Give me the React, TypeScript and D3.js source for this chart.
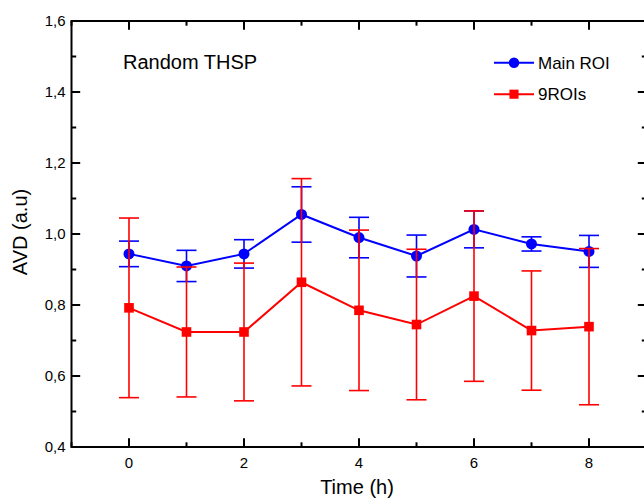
import React from "react";
import * as d3 from "d3";

const times = [0, 1, 2, 3, 4, 5, 6, 7, 8];
const mainRoiMean = [0.944, 0.91, 0.944, 1.055, 0.99, 0.938, 1.013, 0.972, 0.951];
const mainRoiErr = [0.036, 0.044, 0.04, 0.078, 0.057, 0.059, 0.052, 0.02, 0.045];
const nineRoisMean = [0.792, 0.724, 0.724, 0.864, 0.785, 0.745, 0.825, 0.728, 0.739];
const nineRoisErr = [0.253, 0.183, 0.194, 0.292, 0.226, 0.212, 0.24, 0.168, 0.22];
const xMajorTicks = [0, 2, 4, 6, 8];
const xMinorTicks = [-1, 1, 3, 5, 7, 9];
const yMajorTicks = [0.4, 0.6, 0.8, 1.0, 1.2, 1.4, 1.6];
const yMinorTicks = [0.5, 0.7, 0.9, 1.1, 1.3, 1.5];

const W = 644;
const H = 498;
const FONT = "'Liberation Sans', Arial, sans-serif";

export default function App() {
  const x = d3.scaleLinear().domain([-1, 9]).range([71.5, 646.5]);
  const y = d3.scaleLinear().domain([0.4, 1.6]).range([447, 21]);
  const line = d3
    .line<number>()
    .x((_, i) => x(times[i]))
    .y((d) => y(d));
  const fmt = (v: number) => v.toFixed(1).replace(".", ",");

  const series = [
    { name: "Main ROI", mean: mainRoiMean, err: mainRoiErr, color: "#0000FF", marker: "circle" },
    { name: "9ROIs", mean: nineRoisMean, err: nineRoisErr, color: "#FF0000", marker: "square" },
  ];

  const x0 = x(-1), x1 = x(9), y0 = y(0.4), y1 = y(1.6);
  const MAJ = 8.7, MIN = 4.7;

  const marker = (kind: string, cx: number, cy: number, color: string, key: string, size = 1) =>
    kind === "circle" ? (
      <circle key={key} cx={cx} cy={cy} r={5.5 * size} fill={color} />
    ) : (
      <rect key={key} x={cx - 4.8 * size} y={cy - 4.8 * size} width={9.6 * size} height={9.6 * size} fill={color} />
    );

  return (
    <svg width={W} height={H} style={{ position: "absolute", left: 0, top: 0, background: "#fff" }} fontFamily={FONT}>
      <rect x={0} y={0} width={W} height={H} fill="#fff" />
      {/* series */}
      {series.map((s) => (
        <g key={s.name}>
          {s.mean.map((m, i) => {
            const cx = x(times[i]);
            const top = y(m + s.err[i]);
            const bot = y(m - s.err[i]);
            return (
              <g key={i} stroke={s.color} strokeWidth={1.6}>
                <line x1={cx} x2={cx} y1={top} y2={bot} />
                <line x1={cx - 10} x2={cx + 10} y1={top} y2={top} />
                <line x1={cx - 10} x2={cx + 10} y1={bot} y2={bot} />
              </g>
            );
          })}
          <path d={line(s.mean) || ""} fill="none" stroke={s.color} strokeWidth={2} />
          {s.mean.map((m, i) => marker(s.marker, x(times[i]), y(m), s.color, `m${i}`))}
        </g>
      ))}
      {/* frame */}
      <g stroke="#000" strokeWidth={2} fill="none">
        <line x1={x0} x2={x1} y1={y0} y2={y0} />
        <line x1={x0} x2={x1} y1={y1} y2={y1} />
        <line x1={x0} x2={x0} y1={y0 + 1} y2={y1 - 1} />
        <line x1={x1} x2={x1} y1={y0 + 1} y2={y1 - 1} />
        {xMajorTicks.map((t) => (
          <g key={`xM${t}`}>
            <line x1={x(t)} x2={x(t)} y1={y0} y2={y0 - MAJ} />
            <line x1={x(t)} x2={x(t)} y1={y1} y2={y1 + MAJ} />
          </g>
        ))}
        {xMinorTicks.map((t) => (
          <g key={`xm${t}`}>
            <line x1={x(t)} x2={x(t)} y1={y0} y2={y0 - MIN} />
            <line x1={x(t)} x2={x(t)} y1={y1} y2={y1 + MIN} />
          </g>
        ))}
        {yMajorTicks.map((t) => (
          <g key={`yM${t}`}>
            <line x1={x0} x2={x0 + MAJ} y1={y(t)} y2={y(t)} />
            <line x1={x1} x2={x1 - MAJ} y1={y(t)} y2={y(t)} />
          </g>
        ))}
        {yMinorTicks.map((t) => (
          <g key={`ym${t}`}>
            <line x1={x0} x2={x0 + MIN} y1={y(t)} y2={y(t)} />
            <line x1={x1} x2={x1 - MIN} y1={y(t)} y2={y(t)} />
          </g>
        ))}
      </g>
      {/* tick labels */}
      <g fontSize={15} fill="#000">
        {xMajorTicks.map((t) => (
          <text key={`xl${t}`} x={x(t)} y={467.5} textAnchor="middle">
            {String(t)}
          </text>
        ))}
        {yMajorTicks.map((t) => (
          <text key={`yl${t}`} x={x0 - 6} y={y(t) + 5.3} textAnchor="end">
            {fmt(t)}
          </text>
        ))}
      </g>
      {/* axis titles */}
      <text x={357} y={494} textAnchor="middle" fontSize={20} fill="#000">
        Time (h)
      </text>
      <text transform="translate(27,232) rotate(-90)" textAnchor="middle" fontSize={20} fill="#000">
        AVD (a.u)
      </text>
      {/* annotation */}
      <text x={123} y={69} fontSize={20} fill="#000">
        Random THSP
      </text>
      {/* legend */}
      {series.map((s, i) => {
        const ly = 62.7 + i * 31.5;
        return (
          <g key={`lg${i}`}>
            <line x1={494} x2={534} y1={ly} y2={ly} stroke={s.color} strokeWidth={2} />
            {marker(s.marker, 514, ly, s.color, `lm${i}`, 0.95)}
            <text x={538} y={ly + 6} fontSize={17} fill="#000">
              {s.name}
            </text>
          </g>
        );
      })}
    </svg>
  );
}
